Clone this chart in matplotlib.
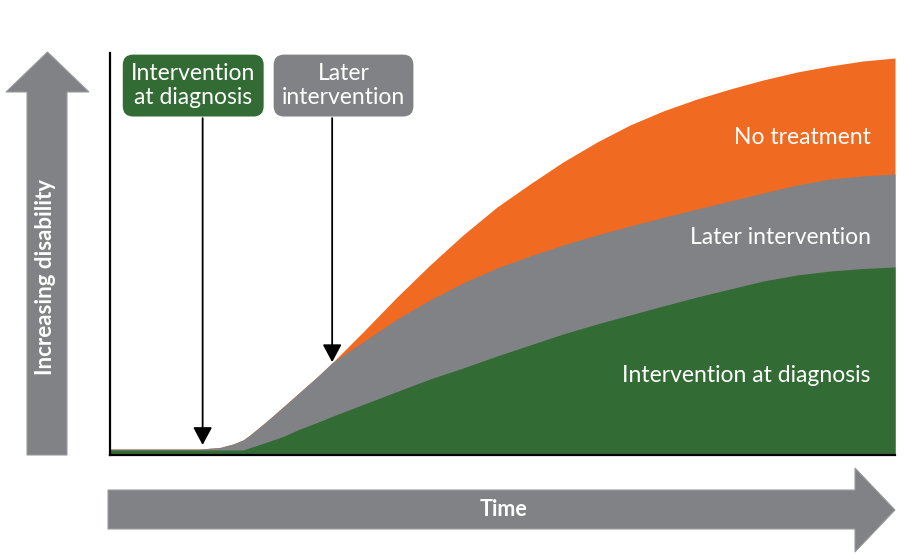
import matplotlib.pyplot as plt
from matplotlib.patches import Polygon

plt.rcParams['font.family'] = ['Lato', 'DejaVu Sans']

# time (0-100) and disability (0-100)
t = [0, 11.46, 14.01, 15.67, 16.94, 17.83, 20.0, 22.04, 24.2, 26.37, 28.41, 32.23,
     36.56, 40.76, 44.97, 49.3, 53.5, 57.71, 62.04, 66.24, 70.45, 74.78, 78.98,
     83.18, 87.52, 91.72, 95.92, 100]
no_treatment = [1.49, 1.49, 1.87, 2.74, 3.73, 4.98, 8.46, 11.94, 15.67, 19.4, 23.13,
                30.6, 39.3, 47.26, 54.73, 61.69, 67.41, 72.89, 77.86, 82.09, 85.57,
                88.56, 91.04, 93.28, 95.27, 96.77, 98.01, 98.76]
later = [1.49, 1.49, 1.87, 2.74, 3.73, 4.98, 8.46, 11.94, 15.67, 19.4, 23.13,
         28.11, 33.83, 38.56, 42.79, 46.52, 49.5, 52.24, 54.73, 56.97, 59.08,
         61.19, 63.18, 65.17, 67.16, 68.66, 69.4, 69.9]
at_diagnosis = [1.24, 1.24, 1.24, 1.24, 1.24, 1.82, 3.23, 4.6, 6.47, 8.08, 9.7,
                12.56, 15.8, 18.91, 21.64, 24.63, 27.36, 30.1, 32.59, 34.83, 37.06,
                39.3, 41.29, 43.28, 44.78, 45.77, 46.39, 46.77]

labels = ["No treatment", "Later intervention", "Intervention at diagnosis"]
label_y = [79.1, 54, 19.9]

# interventions: box text, box centre, arrow time, disability at arrow tip
box_texts = ["Intervention\nat diagnosis", "Later\nintervention"]
box_x = [10.6, 29.75]
arrow_x = [11.8, 28.3]
arrow_tip = [2.5, 23.1]

orange = "#F06A22"
grey = "#808285"
green = "#336B35"

fig = plt.figure(figsize=(9.07, 5.59), dpi=100)

# decoration layer in pixel coordinates
deco = fig.add_axes([0, 0, 1, 1])
deco.set_xlim(0, 907)
deco.set_ylim(559, 0)
deco.axis('off')

up = [(27, 455), (27, 92), (6, 92), (47.5, 52), (89, 92), (67, 92), (67, 455)]
deco.add_patch(Polygon(up, closed=True, facecolor=grey, edgecolor='#9a9b9d', lw=0.8))
deco.text(46, 277, "Increasing disability", rotation=90, color='white',
          fontsize=16, ha='center', va='center', fontweight='bold')

right = [(108, 490), (855, 490), (855, 468), (895, 510), (855, 552), (855, 529), (108, 529)]
deco.add_patch(Polygon(right, closed=True, facecolor=grey, edgecolor='#9a9b9d', lw=0.8))
deco.text(504, 509, "Time", color='white', fontsize=15.5, ha='center', va='center',
          fontweight='bold')

ax = fig.add_axes([110 / 907, 104 / 559, 785 / 907, 402 / 559])
ax.fill_between(t, 0, no_treatment, color=orange, lw=0)
ax.fill_between(t, 0, later, color=grey, lw=0)
ax.fill_between(t, 0, at_diagnosis, color=green, lw=0)
ax.set_xlim(0, 100)
ax.set_ylim(0, 100)
ax.set_xticks([])
ax.set_yticks([])
ax.spines['top'].set_visible(False)
ax.spines['right'].set_visible(False)
ax.spines['left'].set_linewidth(1.6)
ax.spines['bottom'].set_linewidth(1.6)
ax.patch.set_alpha(0)

for lab, y in zip(labels, label_y):
    ax.text(96.9, y, lab, color='white', fontsize=16.5, ha='right', va='center')

for txt, bx, arr_x, tip, col in zip(box_texts, box_x, arrow_x, arrow_tip, [green, grey]):
    ax.text(bx, 91.9, txt, color='white', fontsize=16.5, ha='center', va='center',
            linespacing=1.2,
            bbox=dict(boxstyle='round,pad=0.36,rounding_size=0.45', fc=col, ec='none'))
    ax.annotate('', xy=(arr_x, tip), xytext=(arr_x, 83.8),
                arrowprops=dict(arrowstyle='-|>,head_length=1.08,head_width=0.58',
                                mutation_scale=10, lw=1.3, color='black',
                                shrinkA=0, shrinkB=0))

fig.savefig("out.png", dpi=100)
